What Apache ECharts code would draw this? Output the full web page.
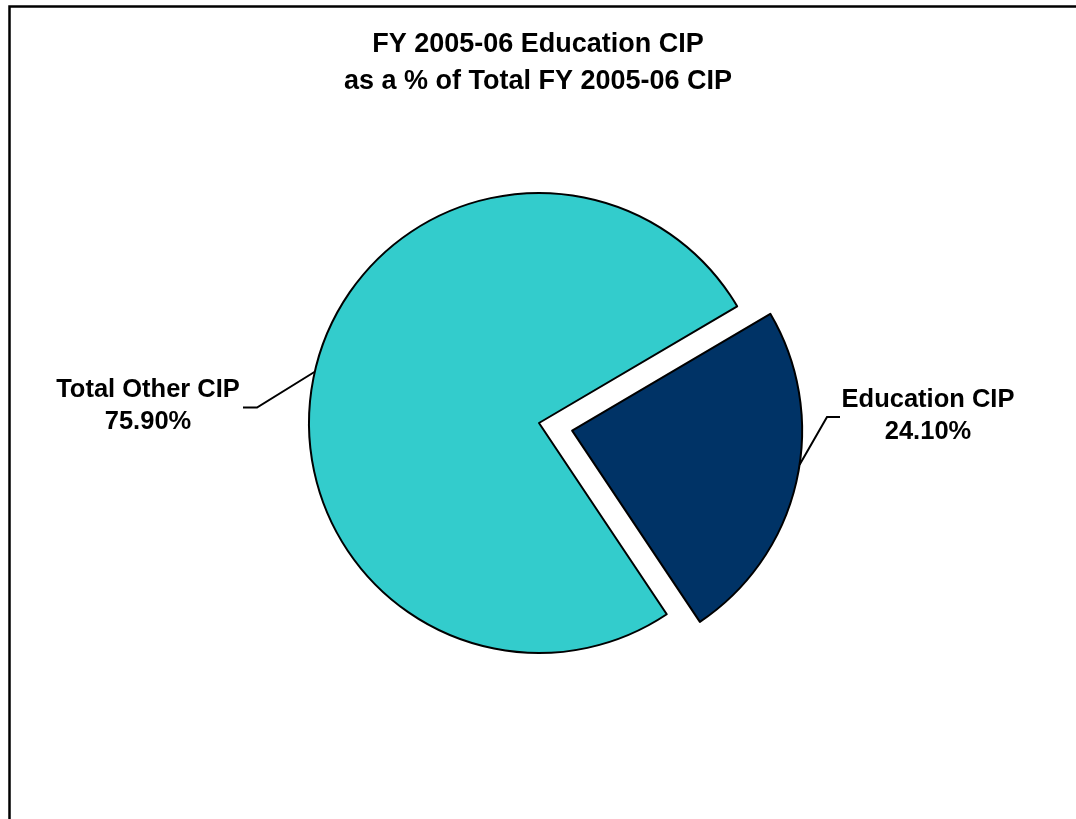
<!DOCTYPE html>
<html>
<head>
<meta charset="utf-8">
<script src="https://cdn.jsdelivr.net/npm/echarts@6/dist/echarts.min.js"></script>
<style>
html,body{margin:0;padding:0;background:#fff;}
#chart{width:1076px;height:819px;}
</style>
</head>
<body>
<div id="chart"></div>
<script>
const titleLines = ['FY 2005-06 Education CIP', 'as a % of Total FY 2005-06 CIP'];
const categories = ['Education CIP', 'Total Other CIP'];
const values = [24.1, 75.9];
const colors = ['#003366', '#33CCCC'];
const explodedIndex = 0;

const chart = echarts.init(document.getElementById('chart'), null, {renderer: 'canvas'});
const FONT = '"Liberation Sans", Arial, sans-serif';

// layout: pie centre, radius, explosion offset, label anchors
const CENTER = [539, 423];
const RADIUS = 230;
const START = 30.5;
const EXPLODE = 34;
// anchorFrac: where along each slice the leader line leaves the rim (0..1)
// elbow / end: x offsets (from label centre) of the leader's bend and end
const labelPos = [
  {x: 928, y: 416, lineY: 417, elbow: -101, end: -88, anchorFrac: 0.45},
  {x: 148, y: 406, lineY: 407.5, elbow: 109, end: 95, anchorFrac: 0.5}
];

const total = values.reduce((a, b) => a + b, 0);
function sliceAngle(idx, frac) {
  let acc = 0;
  for (let i = 0; i < idx; i++) acc += values[i];
  return (START - (acc + values[idx] * frac) / total * 360) * Math.PI / 180;
}
const midRad = sliceAngle(explodedIndex, 0.5);
const explodedCenter = [CENTER[0] + EXPLODE * Math.cos(midRad), CENTER[1] - EXPLODE * Math.sin(midRad)];

function makeSeries(center, showIdx) {
  return {
    type: 'pie',
    center: center,
    radius: [0, RADIUS],
    startAngle: START,
    clockwise: true,
    avoidLabelOverlap: false,
    silent: true,
    emphasis: {disabled: true},
    data: categories.map((c, i) => {
      const on = showIdx(i);
      return {
        name: c, value: values[i],
        itemStyle: on ? {color: colors[i], borderColor: '#000', borderWidth: 2}
                      : {color: 'rgba(0,0,0,0)', borderWidth: 0},
        label: {show: on},
        labelLine: {show: on}
      };
    }),
    label: {
      position: 'outside',
      formatter: p => p.name + '\n' + p.value.toFixed(2) + '%',
      fontFamily: FONT, fontWeight: 'bold', fontSize: 25.5, lineHeight: 32,
      color: '#000', align: 'center'
    },
    labelLine: {lineStyle: {color: '#000', width: 2}},
    labelLayout: function (params) {
      const i = params.dataIndex;
      const lp = labelPos[i];
      const a = sliceAngle(i, lp.anchorFrac);
      const start = [center[0] + RADIUS * Math.cos(a), center[1] - RADIUS * Math.sin(a)];
      return {
        x: lp.x, y: lp.y, align: 'center', verticalAlign: 'middle',
        labelLinePoints: [start, [lp.x + lp.elbow, lp.lineY], [lp.x + lp.end, lp.lineY]]
      };
    }
  };
}

const option = {
  backgroundColor: '#fff',
  animation: false,
  title: {
    text: titleLines.join('\n'),
    left: 'center',
    top: 21,
    textStyle: {fontFamily: FONT, fontWeight: 'bold', fontSize: 27, lineHeight: 37, color: '#000'}
  },
  graphic: [{
    type: 'polyline',
    shape: {points: [[9.5, 830], [9.5, 6.5], [1090, 6.5]]},
    style: {stroke: '#000', lineWidth: 2.5, fill: null},
    silent: true
  }],
  series: [
    makeSeries(CENTER, i => i !== explodedIndex),
    makeSeries(explodedCenter, i => i === explodedIndex)
  ]
};
chart.setOption(option);
</script>
</body>
</html>
